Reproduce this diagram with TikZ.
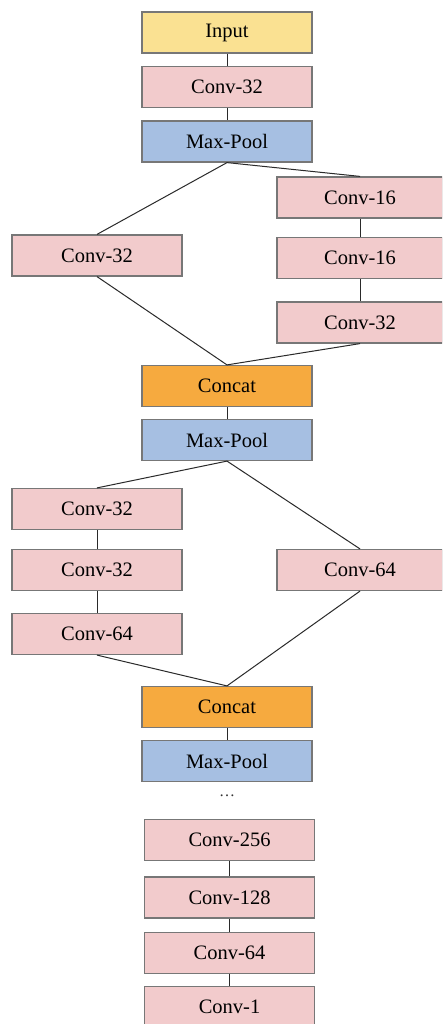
\documentclass[tikz,border=0pt]{standalone}
\usepackage{fontspec}
\setmainfont{Liberation Serif}
\definecolor{cpink}{HTML}{F2CBCC}
\definecolor{cblue}{HTML}{A6BFE2}
\definecolor{corange}{HTML}{F6AA3F}
\definecolor{cyellow}{HTML}{FAE192}
\definecolor{cborder}{HTML}{777777}
\definecolor{cline}{HTML}{2A2A2A}
\begin{document}
\begin{tikzpicture}[x=1pt,y=-1pt,
  blk/.style={draw=cborder,line width=1.2pt,rectangle,inner sep=0pt,minimum width=170pt,minimum height=41pt,font=\fontsize{20.5}{20.5}\selectfont},
  conv/.style={blk,fill=cpink},
  pool/.style={blk,fill=cblue},
  cat/.style={blk,fill=corange},
  inp/.style={blk,fill=cyellow},
  rconv/.style={conv,minimum width=166pt},
  link/.style={draw=cline,line width=1pt}]
\useasboundingbox (0,0) rectangle (442,1024);
\clip (0,0) rectangle (442,1024);
\fill[white] (0,0) rectangle (442,1024);
% main column
\node[inp]  (in)  at (227,32.5) {Input};
\node[conv] (c1)  at (227,87)   {Conv-32};
\node[pool] (mp1) at (227,141.5){Max-Pool};
% block 1
\node[rconv] (r1) at (360,197.5) {Conv-16};
\node[conv]  (l1) at (97,255.5) {Conv-32};
\node[rconv] (r2) at (360,258)   {Conv-16};
\node[rconv] (r3) at (360,322.5) {Conv-32};
\node[cat]  (cc1) at (227,386) {Concat};
\node[pool] (mp2) at (227,440) {Max-Pool};
% block 2
\node[conv]  (l2a) at (97,509) {Conv-32};
\node[conv]  (l2b) at (97,570) {Conv-32};
\node[conv]  (l2c) at (97,634) {Conv-64};
\node[rconv] (r4)  at (360,570) {Conv-64};
\node[cat]  (cc2) at (227,707) {Concat};
\node[pool] (mp3) at (227,761) {Max-Pool};
\node[font=\fontsize{16}{16}\selectfont,inner sep=0pt,text=black!80] (dots) at (227,796) {\dots};
% tail
\node[conv] (t1) at (229.5,840)   {Conv-256};
\node[conv] (t2) at (229.5,897.5) {Conv-128};
\node[conv] (t3) at (229.5,953)   {Conv-64};
\node[conv] (t4) at (229.5,1007)  {Conv-1};
% connectors
\draw[link] (in.south) -- (c1.north);
\draw[link] (c1.south) -- (mp1.north);
\draw[link] (mp1.south) -- (l1.north);
\draw[link] (mp1.south) -- (r1.north);
\draw[link] (r1.south) -- (r2.north);
\draw[link] (r2.south) -- (r3.north);
\draw[link] (l1.south) -- (cc1.north);
\draw[link] (r3.south) -- (cc1.north);
\draw[link] (cc1.south) -- (mp2.north);
\draw[link] (mp2.south) -- (l2a.north);
\draw[link] (mp2.south) -- (r4.north);
\draw[link] (l2a.south) -- (l2b.north);
\draw[link] (l2b.south) -- (l2c.north);
\draw[link] (l2c.south) -- (cc2.north);
\draw[link] (r4.south) -- (cc2.north);
\draw[link] (cc2.south) -- (mp3.north);
\draw[link] (t1.south) -- (t2.north);
\draw[link] (t2.south) -- (t3.north);
\draw[link] (t3.south) -- (t4.north);
\end{tikzpicture}
\end{document}
